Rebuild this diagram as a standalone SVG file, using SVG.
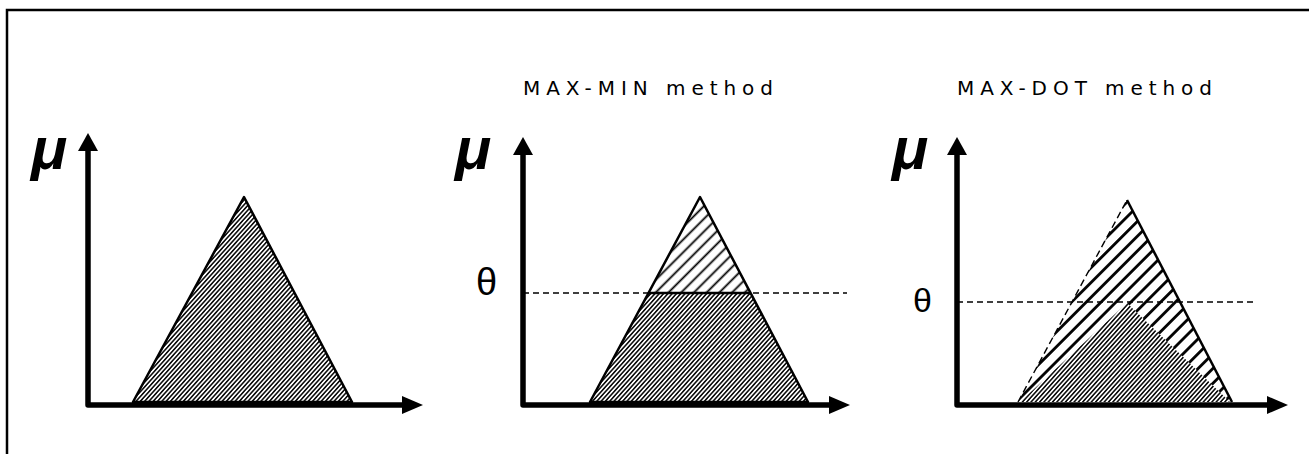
<svg xmlns="http://www.w3.org/2000/svg" width="1309" height="454" viewBox="0 0 1309 454">
<style>
.frame{fill:none;stroke:#000;stroke-width:2.5}
.axis{fill:none;stroke:#000;stroke-width:5.5;stroke-linejoin:round;stroke-linecap:round}
.head{fill:#000}
.tri{stroke:#000;stroke-width:2.5;stroke-linejoin:round}
.dash{stroke:#000;stroke-width:1.6;stroke-dasharray:6 4;fill:none}
.mu{font-family:"Liberation Sans",Arial,sans-serif;font-style:italic;font-weight:bold;font-size:60px;fill:#000}
.th{font-family:"Liberation Sans",Arial,sans-serif;fill:#000}
.title{font-family:"DejaVu Sans",Verdana,sans-serif;font-size:20px;fill:#000}
</style>
<defs>
<pattern id="dense" width="3.2" height="3.2" patternUnits="userSpaceOnUse" patternTransform="rotate(-48)">
<rect width="3.2" height="3.2" fill="#fff"/>
<line x1="0" y1="1.6" x2="3.2" y2="1.6" stroke="#000" stroke-width="1.5"/>
</pattern>
<pattern id="sparse" width="9" height="9" patternUnits="userSpaceOnUse" patternTransform="rotate(-45)">
<rect width="9" height="9" fill="#fff"/>
<line x1="0" y1="4.5" x2="9" y2="4.5" stroke="#000" stroke-width="1.8"/>
</pattern>
<pattern id="sparse3" width="10.5" height="10.5" patternUnits="userSpaceOnUse" patternTransform="rotate(-45)">
<rect width="10.5" height="10.5" fill="#fff"/>
<line x1="0" y1="5.25" x2="10.5" y2="5.25" stroke="#000" stroke-width="2.8"/>
</pattern>
</defs>
<rect width="1309" height="454" fill="#fff"/>
<path class="frame" d="M7,460 L7,10 L1312,10"/>

<g id="panel1">
<polygon class="tri" points="133,402 244,197 352,402" fill="url(#dense)"/>
<text class="mu" x="31" y="169">μ</text>
</g>

<g id="panel2">
<text class="title" x="523" y="95" textLength="250" lengthAdjust="spacing">MAX-MIN method</text>
<polygon points="648.5,293 700,197 750.5,293" fill="url(#sparse)"/>
<polygon points="590,402 648.5,293 750.5,293 808,402" fill="url(#dense)"/>
<polygon class="tri" points="590,402 700,197 808,402" fill="none"/>
<line x1="523" y1="293" x2="847" y2="293" class="dash"/>
<line x1="648.5" y1="293" x2="750.5" y2="293" stroke="#000" stroke-width="2.5"/>
<text class="mu" x="455" y="169">μ</text>
<text class="th" x="476" y="295" font-size="38">θ</text>
</g>

<g id="panel3">
<text class="title" x="957" y="95" textLength="255" lengthAdjust="spacing">MAX-DOT method</text>
<polygon points="1018,402 1127,200 1232,402" fill="url(#sparse3)"/>
<polygon points="1020,402 1127,303 1230,402" fill="url(#dense)"/>
<line x1="1127" y1="200" x2="1232" y2="402" stroke="#000" stroke-width="2.5"/>
<line x1="1018" y1="402" x2="1127" y2="200" stroke="#000" stroke-width="1.4" stroke-dasharray="7 4"/>
<line x1="957" y1="302" x2="1253" y2="302" class="dash"/>
<text class="mu" x="892" y="169">μ</text>
<text class="th" x="913" y="312" font-size="34">θ</text>
</g>

<g id="connectors">
<path class="axis" d="M88,148 L88,405 L404,405"/>
<polygon class="head" points="88,133 78,151 98,151"/>
<polygon class="head" points="423,405 402,396 402,414"/>
<path class="axis" d="M523,152 L523,405 L831,405"/>
<polygon class="head" points="523,137 513,155 533,155"/>
<polygon class="head" points="850,405 829,396 829,414"/>
<path class="axis" d="M957,152 L957,405 L1269,405"/>
<polygon class="head" points="957,137 947,155 967,155"/>
<polygon class="head" points="1288,405 1267,396 1267,414"/>
</g>
</svg>
